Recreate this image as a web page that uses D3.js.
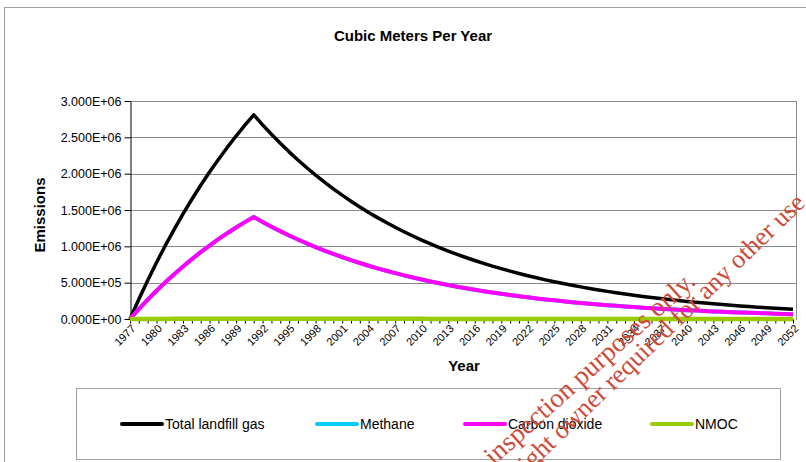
<!DOCTYPE html>
<html>
<head>
<meta charset="utf-8">
<script src="https://cdnjs.cloudflare.com/ajax/libs/d3/7.8.5/d3.min.js"></script>
<style>
  html, body { margin: 0; padding: 0; background: #fff; }
  text { font-family: "Liberation Sans", Arial, sans-serif; }
</style>
</head>
<body>
<div id="mainDiv"></div>
<script>
'use strict';

// years 1977 .. 2052
var years = d3.range(1977, 2053);

var totalLandfillGas = [0, 272000, 531000, 777000, 1011000, 1234000, 1446000, 1648000, 1840000, 2022000,
  2196000, 2361000, 2518000, 2667000, 2809000, 2672000, 2542000, 2418000, 2300000, 2188000,
  2081000, 1979000, 1883000, 1791000, 1704000, 1621000, 1542000, 1466000, 1395000, 1327000,
  1262000, 1201000, 1142000, 1086000, 1033000, 983000, 935000, 889000, 846000, 805000,
  766000, 728000, 693000, 659000, 627000, 596000, 567000, 539000, 513000, 488000,
  464000, 442000, 420000, 400000, 380000, 362000, 344000, 327000, 311000, 296000,
  282000, 268000, 255000, 242000, 231000, 219000, 209000, 198000, 189000, 180000,
  171000, 162000, 155000, 147000, 140000, 133000];

var methane = [0, 136000, 265500, 388500, 505500, 617000, 723000, 824000, 920000, 1011000,
  1098000, 1180500, 1259000, 1333500, 1404500, 1336000, 1271000, 1209000, 1150000, 1094000,
  1040500, 989500, 941500, 895500, 852000, 810500, 771000, 733000, 697500, 663500,
  631000, 600500, 571000, 543000, 516500, 491500, 467500, 444500, 423000, 402500,
  383000, 364000, 346500, 329500, 313500, 298000, 283500, 269500, 256500, 244000,
  232000, 221000, 210000, 200000, 190000, 181000, 172000, 163500, 155500, 148000,
  141000, 134000, 127500, 121000, 115500, 109500, 104500, 99000, 94500, 90000,
  85500, 81000, 77500, 73500, 70000, 66500];

var carbonDioxide = [0, 136000, 265500, 388500, 505500, 617000, 723000, 824000, 920000, 1011000,
  1098000, 1180500, 1259000, 1333500, 1404500, 1336000, 1271000, 1209000, 1150000, 1094000,
  1040500, 989500, 941500, 895500, 852000, 810500, 771000, 733000, 697500, 663500,
  631000, 600500, 571000, 543000, 516500, 491500, 467500, 444500, 423000, 402500,
  383000, 364000, 346500, 329500, 313500, 298000, 283500, 269500, 256500, 244000,
  232000, 221000, 210000, 200000, 190000, 181000, 172000, 163500, 155500, 148000,
  141000, 134000, 127500, 121000, 115500, 109500, 104500, 99000, 94500, 90000,
  85500, 81000, 77500, 73500, 70000, 66500];

var nmoc = [0, 440, 850, 1240, 1620, 1970, 2310, 2640, 2940, 3240,
  3510, 3780, 4030, 4270, 4490, 4280, 4070, 3870, 3680, 3500,
  3330, 3170, 3010, 2870, 2730, 2590, 2470, 2350, 2230, 2120,
  2020, 1920, 1830, 1740, 1650, 1570, 1500, 1420, 1350, 1290,
  1230, 1170, 1110, 1060, 1000, 950, 910, 860, 820, 780,
  740, 710, 670, 640, 610, 580, 550, 520, 500, 470,
  450, 430, 410, 390, 370, 350, 330, 320, 300, 290,
  270, 260, 250, 240, 220, 210];

var seriesNames = ['Total landfill gas', 'Methane', 'Carbon dioxide', 'NMOC'];
var yTicks = [0, 500000, 1000000, 1500000, 2000000, 2500000, 3000000];


var myChart = {};

myChart.cores = ['#000000', '#00ccff', '#ff00ff', '#99cc00'];
myChart.larguras = [3.5, 4, 4, 4.5];

// 3.000E+06 style labels
myChart.sci = function(v)
{
    if (v === 0) return '0.000E+00';
    var e = Math.floor(Math.log10(v));
    var m = v / Math.pow(10, e);
    return m.toFixed(3) + 'E+' + String(e).padStart(2, '0');
}

myChart.run = function()
{
    var W = 806, H = 462;
    var plot = {left: 130, right: 796, top: 101, bottom: 319, lastX: 793};

    var svg = d3.select('#mainDiv').append('svg')
        .attr('width', W)
        .attr('height', H);

    svg.append('rect').attr('width', W).attr('height', H).attr('fill', '#fff');

    // outer chart border
    svg.append('rect')
        .attr('x', 4.5).attr('y', 7.5)
        .attr('width', 900).attr('height', 900)
        .attr('fill', 'none').attr('stroke', '#a0a0a0');

    var x = d3.scaleLinear().domain([years[0], years[years.length - 1]]).range([plot.left, plot.lastX]);
    var y = d3.scaleLinear().domain([0, 3000000]).range([plot.bottom, plot.top]);

    // gridlines
    svg.append('g').selectAll('line')
        .data(yTicks.slice(1))
        .enter().append('line')
        .attr('x1', plot.left).attr('x2', plot.right)
        .attr('y1', function(d){ return Math.round(y(d)) + 0.5; })
        .attr('y2', function(d){ return Math.round(y(d)) + 0.5; })
        .attr('stroke', '#888').attr('stroke-width', 1);

    // right border of plot
    svg.append('line')
        .attr('x1', plot.right + 0.5).attr('x2', plot.right + 0.5)
        .attr('y1', plot.top).attr('y2', plot.bottom + 1)
        .attr('stroke', '#888');

    // y axis
    var yAxis = d3.axisLeft(y).tickValues(yTicks).tickSize(6).tickSizeOuter(0).tickFormat(myChart.sci);
    var gy = svg.append('g')
        .attr('transform', 'translate(' + (plot.left + 0.5) + ',0)')
        .call(yAxis);
    gy.select('.domain').attr('stroke', '#000');
    gy.selectAll('.tick line').attr('stroke', '#000');
    gy.selectAll('.tick text')
        .attr('x', -9)
        .attr('font-size', 12.5)
        .attr('font-family', '"Liberation Sans", Arial, sans-serif')
        .attr('fill', '#000');

    // x axis, tick every year, label every 3rd
    var xAxis = d3.axisBottom(x).tickValues(years).tickSize(4).tickSizeOuter(0)
        .tickFormat(function(d){ return (d - years[0]) % 3 === 0 ? d : ''; });
    var gx = svg.append('g')
        .attr('transform', 'translate(0,' + (plot.bottom + 0.5) + ')')
        .call(xAxis);
    gx.select('.domain').attr('stroke', '#000');
    gx.selectAll('.tick line').attr('stroke', '#000');
    gx.selectAll('.tick text')
        .attr('x', 0).attr('y', 0).attr('dy', '0.35em')
        .attr('transform', 'translate(3,7) rotate(-45)')
        .attr('text-anchor', 'end')
        .attr('font-size', 11)
        .attr('font-family', '"Liberation Sans", Arial, sans-serif')
        .attr('fill', '#000');

    // series
    var line = d3.line()
        .x(function(d, i){ return x(years[i]); })
        .y(function(d){ return y(d); });

    var dados = [totalLandfillGas, methane, carbonDioxide, nmoc];
    dados.forEach(function(serie, i) {
        svg.append('path')
            .datum(serie)
            .attr('d', line)
            .attr('fill', 'none')
            .attr('stroke', myChart.cores[i])
            .attr('stroke-width', myChart.larguras[i])
            .attr('stroke-linejoin', 'round');
    });

    // titles
    svg.append('text')
        .attr('x', 413).attr('y', 41)
        .attr('text-anchor', 'middle')
        .attr('font-size', 15).attr('font-weight', 'bold')
        .text('Cubic Meters Per Year');

    svg.append('text')
        .attr('transform', 'translate(45,215) rotate(-90)')
        .attr('text-anchor', 'middle')
        .attr('font-size', 15).attr('font-weight', 'bold')
        .text('Emissions');

    svg.append('text')
        .attr('x', 464).attr('y', 371)
        .attr('text-anchor', 'middle')
        .attr('font-size', 15).attr('font-weight', 'bold')
        .text('Year');

    // legend
    svg.append('rect')
        .attr('x', 76.5).attr('y', 388.5)
        .attr('width', 704).attr('height', 71)
        .attr('fill', '#fff').attr('stroke', '#a0a0a0');

    var legX = [122, 317, 465, 652];
    var leg = svg.append('g').selectAll('g')
        .data(seriesNames)
        .enter().append('g')
        .attr('transform', function(d, i){ return 'translate(' + legX[i] + ',424)'; });
    leg.append('line')
        .attr('x1', 0).attr('x2', 40)
        .attr('stroke', function(d, i){ return myChart.cores[i]; })
        .attr('stroke-width', 4)
        .attr('stroke-linecap', 'round');
    leg.append('text')
        .attr('x', 43).attr('dy', '0.35em')
        .attr('font-size', 14)
        .text(function(d){ return d; });

    // watermark
    var wm = svg.append('g')
        .attr('fill', '#cc4a38');
    wm.append('text')
        .attr('transform', 'translate(697,283) rotate(-42)')
        .attr('text-anchor', 'end')
        .attr('font-size', 27)
        .style('font-family', '"Liberation Serif", "Times New Roman", serif')
        .text('inspection purposes only.');
    wm.append('text')
        .attr('transform', 'translate(811,200) rotate(-44)')
        .attr('text-anchor', 'end')
        .attr('font-size', 26)
        .style('font-family', '"Liberation Serif", "Times New Roman", serif')
        .text('Consent of copyright owner required for any other use.');
}

window.onload = function() {
    myChart.run();
};
</script>
</body>
</html>
